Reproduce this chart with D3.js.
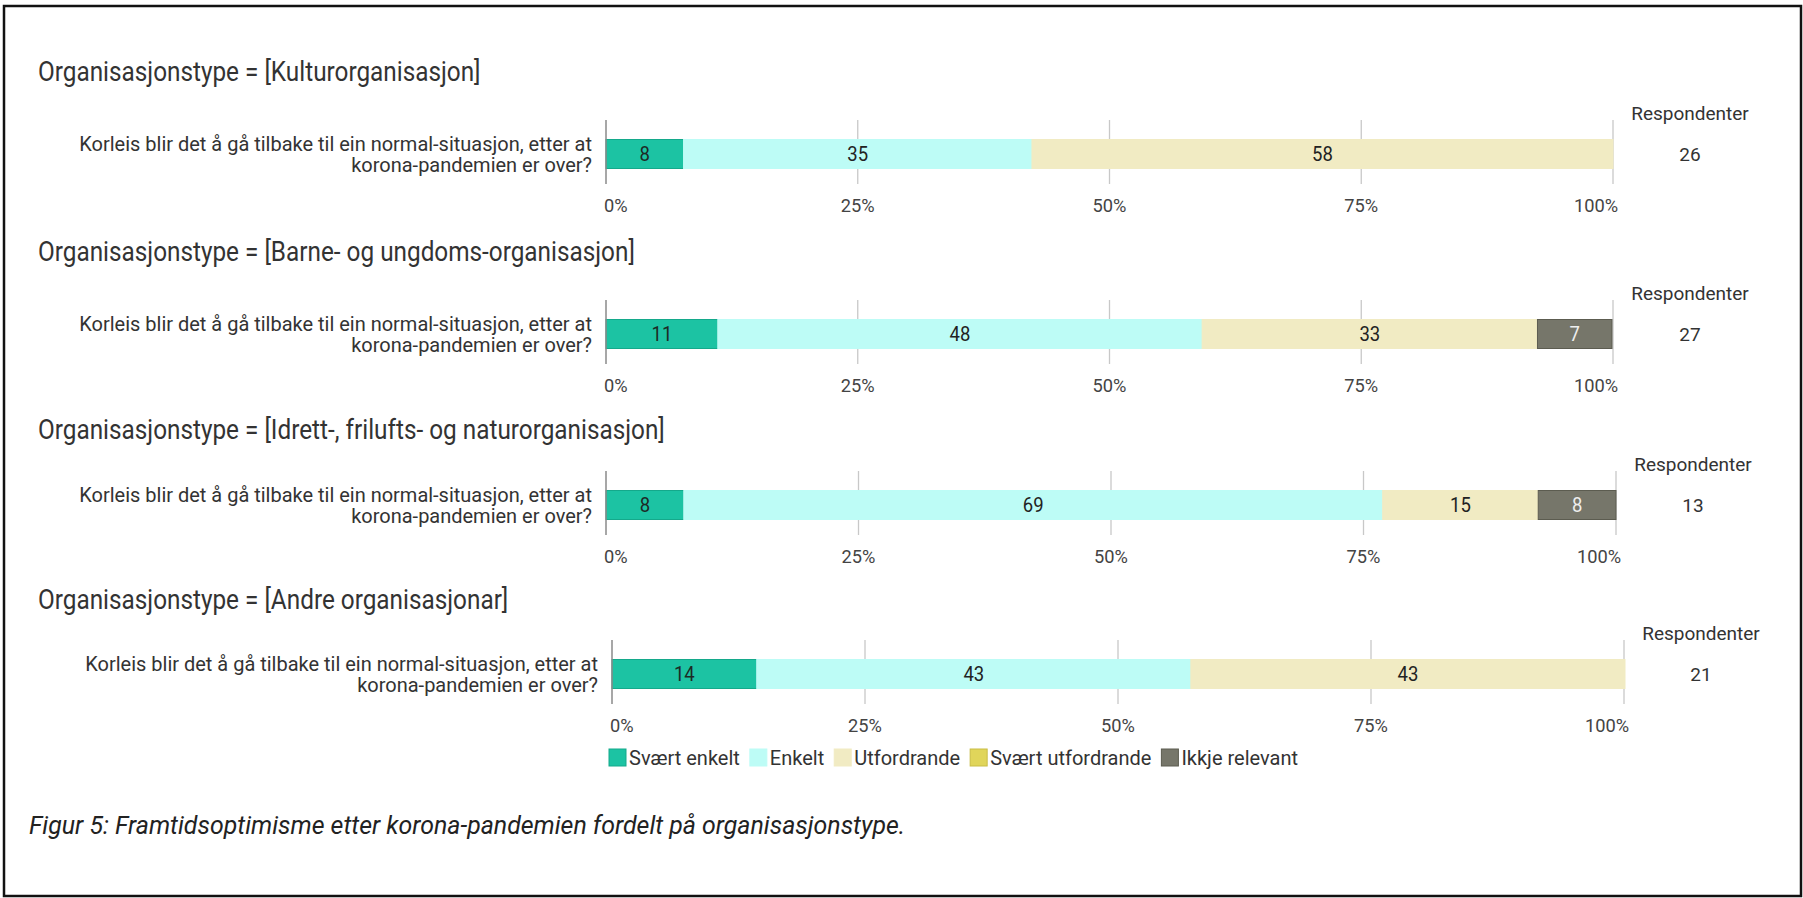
<!DOCTYPE html>
<html>
<head>
<meta charset="utf-8">
<script src="https://cdn.jsdelivr.net/npm/d3@7"></script>
<style>
  body { margin: 0; background: #fff; }
  svg text { font-family: Roboto, "Noto Sans", sans-serif; fill: #333; }
</style>
</head>
<body>
<div id="chart"></div>
<script>
// categories and series
const orgTypes = ["Kulturorganisasjon", "Barne- og ungdoms-organisasjon", "Idrett-, frilufts- og naturorganisasjon", "Andre organisasjonar"];
const answers = ["Svært enkelt", "Enkelt", "Utfordrande", "Svært utfordrande", "Ikkje relevant"];
const shares = [
    [7.7, 34.6, 57.7, 0, 0],
    [11.1, 48.1, 33.3, 0, 7.4],
    [7.7, 69.2, 15.4, 0, 7.7],
    [14.3, 42.9, 42.9, 0, 0]
];
const respondents = [26, 27, 13, 21];
const ticks = [0, 25, 50, 75, 100];
const question = ["Korleis blir det å gå tilbake til ein normal-situasjon, etter at", "korona-pandemien er over?"];
const caption = "Figur 5: Framtidsoptimisme etter korona-pandemien fordelt på organisasjonstype.";

const width = 1803, height = 898;

// panel layout (the panels in the original are not evenly spaced)
const titleY = [71, 251, 429, 599];
const barY = [154, 334, 505, 674];
const plotX = [[606, 1613], [606, 1613], [606, 1616], [612, 1624]];
const barH = 29;

const color = d3.scaleOrdinal()
    .domain(answers)
    .range(["#1cc3a3", "#bdfcf6", "#f1ebc3", "#e0d55a", "#76766a"]);
const stroke = d3.scaleOrdinal()
    .domain(answers)
    .range(["#14a98b", "#bdfcf6", "#f1ebc3", "#c9bd45", "#5c5c50"]);
const labelColor = d3.scaleOrdinal()
    .domain(answers)
    .range(["#1d2a26", "#222", "#222", "#222", "#eee"]);

const svg = d3.select("#chart")
    .append("svg")
    .attr("width", width)
    .attr("height", height);

// frame
svg.append("rect")
    .attr("x", 4).attr("y", 6)
    .attr("width", 1797).attr("height", 890)
    .attr("fill", "none")
    .attr("stroke", "#111")
    .attr("stroke-width", 2.5);

// helper: text anchored at x,y, squeezed horizontally by sx
function ctext(g, x, y, str, size, anchor, sx) {
    return g.append("g")
        .attr("transform", `translate(${x},${y}) scale(${sx || 1},1)`)
        .append("text")
        .attr("text-anchor", anchor || "start")
        .attr("dy", "0.35em")
        .style("font-size", size + "px")
        .text(str);
}

const stack = d3.stack().keys(d3.range(answers.length));

orgTypes.forEach((org, i) => {
    const g = svg.append("g");
    const x = d3.scaleLinear().domain([0, 100]).range(plotX[i]);
    const by = barY[i];

    ctext(g, 38, titleY[i], `Organisasjonstype = [${org}]`, 28.3, "start", 0.86);

    // question label
    const qx = plotX[i][0] - 14;
    ctext(g, qx, by - 10, question[0], 20.2, "end", 0.99);
    ctext(g, qx, by + 11, question[1], 20.2, "end", 0.99);

    // grid lines
    g.selectAll(".grid")
        .data(ticks.slice(1))
        .join("line")
        .attr("x1", d => x(d)).attr("x2", d => x(d))
        .attr("y1", by - 34).attr("y2", by + 30)
        .attr("stroke", "#c8c8c8")
        .attr("stroke-width", 1.3);

    // stacked segments
    const series = stack([shares[i]]);
    const segs = series.map((s, k) => ({ key: answers[k], x0: s[0][0], x1: s[0][1], v: shares[i][k] }))
        .filter(d => d.v > 0);

    g.selectAll(".seg")
        .data(segs)
        .join("rect")
        .attr("x", d => x(d.x0))
        .attr("y", by - barH / 2)
        .attr("width", d => x(d.x1) - x(d.x0))
        .attr("height", barH)
        .attr("fill", d => color(d.key))
        .attr("stroke", d => stroke(d.key))
        .attr("stroke-width", 1);

    segs.forEach(d => {
        ctext(g, (x(d.x0) + x(d.x1)) / 2, by, Math.round(d.v), 19.5, "middle", 0.95)
            .style("fill", labelColor(d.key));
    });

    // zero axis
    g.append("line")
        .attr("x1", x(0)).attr("x2", x(0))
        .attr("y1", by - 34).attr("y2", by + 30)
        .attr("stroke", "#8a8a8a")
        .attr("stroke-width", 1.5);

    // first label starts at the axis, last one ends at it
    ticks.forEach((t, k) => {
        const anchor = k === 0 ? "start" : k === ticks.length - 1 ? "end" : "middle";
        const dx = k === 0 ? -2 : k === ticks.length - 1 ? 5 : 0;
        ctext(g, x(t) + dx, by + 51, t + "%", 19, anchor, 0.96).style("fill", "#444");
    });

    const rx = plotX[i][1] + 77;
    ctext(g, rx, by - 41, "Respondenter", 19, "middle", 1);
    ctext(g, rx, by, respondents[i], 19, "middle", 1);
});

// legend
const legend = svg.append("g").attr("transform", "translate(609,758)");
let lx = 0;
answers.forEach(a => {
    legend.append("rect")
        .attr("x", lx).attr("y", -9)
        .attr("width", 17).attr("height", 17)
        .attr("fill", color(a))
        .attr("stroke", stroke(a));
    const t = ctext(legend, lx + 20, 0, a, 20, "start", 1);
    lx += 20 + t.node().getComputedTextLength() + 10;
});

// caption
svg.append("text")
    .attr("x", 29).attr("y", 825)
    .attr("dy", "0.35em")
    .style("font-size", "24.9px")
    .style("font-style", "italic")
    .style("fill", "#222")
    .text(caption);
</script>
</body>
</html>
